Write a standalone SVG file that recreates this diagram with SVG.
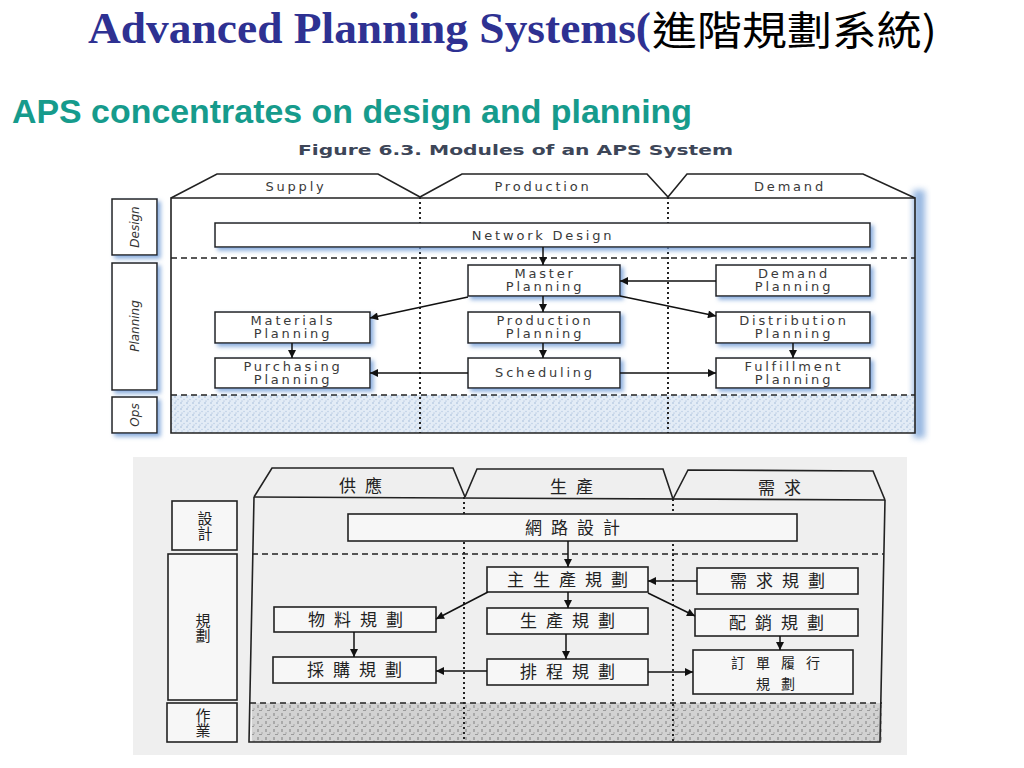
<svg xmlns="http://www.w3.org/2000/svg" width="1024" height="768" viewBox="0 0 1024 768">
<style>
.title{font-family:"Liberation Serif","Noto Serif CJK TC",serif;font-weight:bold;font-size:44px;fill:#2e3192}
.titlecjk{font-family:"Noto Sans CJK TC",sans-serif;font-size:40px;fill:#000}
.sub{font-family:"Liberation Sans",Arial,sans-serif;font-weight:bold;font-size:34px;fill:#169b8c}
.cap{font-family:"DejaVu Sans",sans-serif;font-weight:bold;font-size:14px;fill:#3d4658}
.en{font-family:"DejaVu Sans",sans-serif;font-size:13px;letter-spacing:2.8px;fill:#3a3a3a;text-anchor:middle}
.side{font-family:"DejaVu Sans",sans-serif;font-style:italic;font-size:12px;fill:#333;text-anchor:middle}
.sbox{fill:#fff;stroke:#222;stroke-width:1.5;filter:url(#sh)}
.frame{fill:none;stroke:#222;stroke-width:1.6}
.dash{fill:none;stroke:#222;stroke-width:1.3;stroke-dasharray:6 4}
.dot{fill:none;stroke:#222;stroke-width:2;stroke-dasharray:2 3}
.zh{font-family:"Noto Sans CJK TC","Noto Sans CJK SC",sans-serif;font-size:17px;letter-spacing:9px;fill:#222;text-anchor:middle}
.zh2{font-family:"Noto Sans CJK TC","Noto Sans CJK SC",sans-serif;font-size:14px;letter-spacing:11px;fill:#222;text-anchor:middle}
.zhv{font-family:"Noto Sans CJK TC","Noto Sans CJK SC",sans-serif;font-size:15px;fill:#222;text-anchor:middle;writing-mode:vertical-rl}
.bbox{fill:#f7f7f7;stroke:#222;stroke-width:1.6}
.conn{fill:none;stroke:#111;stroke-width:1.5;marker-end:url(#ah)}
</style>
<defs>
<marker id="ah" viewBox="0 0 10 10" refX="10" refY="5" markerWidth="9" markerHeight="8" markerUnits="userSpaceOnUse" orient="auto"><path d="M0,0 L10,5 L0,10 z" fill="#111"/></marker>
<filter id="sh" x="-10%" y="-20%" width="130%" height="160%"><feDropShadow dx="3" dy="3" stdDeviation="2" flood-color="#6f9bd6" flood-opacity="0.8"/></filter>
<filter id="blur" x="-50%" y="-10%" width="200%" height="120%"><feGaussianBlur stdDeviation="3"/></filter>
<pattern id="ops" width="6" height="6" patternUnits="userSpaceOnUse"><rect width="6" height="6" fill="#e3ecf6"/><circle cx="1" cy="1" r="0.8" fill="#9fb8d8"/><circle cx="4" cy="3.5" r="0.7" fill="#b5c9e2"/><circle cx="2" cy="5" r="0.5" fill="#8aa7cf"/></pattern>
<pattern id="gops" width="8" height="8" patternUnits="userSpaceOnUse"><rect width="8" height="8" fill="#d2d2d2"/><rect x="1" y="1" width="2" height="3" fill="#a9a9a9"/><rect x="5" y="4" width="2" height="2" fill="#bdbdbd"/><rect x="3" y="6" width="3" height="1" fill="#9a9a9a"/></pattern>
</defs>

<rect width="1024" height="768" fill="#fff"/>

<g id="title">
<text class="title" x="88" y="43" textLength="563" lengthAdjust="spacingAndGlyphs">Advanced Planning Systems(</text>
<text class="titlecjk" x="652" y="45" textLength="285" lengthAdjust="spacingAndGlyphs">進階規劃系統)</text>
</g>
<g id="subtitle"><text class="sub" x="12" y="123" textLength="680" lengthAdjust="spacingAndGlyphs">APS concentrates on design and planning</text></g>

<!-- ===== Top figure ===== -->
<g id="fig-en">
<text class="cap" x="298" y="155" textLength="435" lengthAdjust="spacingAndGlyphs">Figure 6.3. Modules of an APS System</text>
<rect x="913" y="190" width="12" height="248" fill="#7ea6da" filter="url(#blur)" opacity="0.8"/>
<rect x="171" y="395" width="744" height="38" fill="url(#ops)"/>
<g id="en-frame">
<path class="frame" d="M171,198 L171,433 L915,433 L915,198 Z"/>
<path class="frame" d="M171,198 L217,174 L378,174 L420,197"/>
<path class="frame" d="M420,197 L462,174 L647,174 L668,197"/>
<path class="frame" d="M668,197 L687,174 L863,174 L915,198"/>
<path class="dash" d="M171,258 H915 M171,395 H915"/>
<path class="dot" d="M420,197 V433 M668,197 V433"/>
</g>
<g id="hdr-supply"><text class="en" x="296" y="191">Supply</text></g>
<g id="hdr-production"><text class="en" x="543" y="191">Production</text></g>
<g id="hdr-demand"><text class="en" x="790" y="191">Demand</text></g>

<g id="lbl-design"><rect class="sbox" x="112" y="199" width="45" height="56"/><text class="side" transform="translate(139,227) rotate(-90)">Design</text></g>
<g id="lbl-planning"><rect class="sbox" x="112" y="263" width="45" height="127"/><text class="side" transform="translate(139,326) rotate(-90)">Planning</text></g>
<g id="lbl-ops"><rect class="sbox" x="112" y="397" width="45" height="36"/><text class="side" transform="translate(139,415) rotate(-90)">Ops</text></g>

<g id="network-design"><rect class="sbox" x="215" y="223" width="655" height="24"/><text class="en" x="543" y="240">Network Design</text></g>
<g id="master-planning"><rect class="sbox" x="468" y="265" width="152" height="31"/><text class="en" x="545" y="278">Master</text><text class="en" x="545" y="291">Planning</text></g>
<g id="production-planning"><rect class="sbox" x="468" y="312" width="152" height="31"/><text class="en" x="545" y="325">Production</text><text class="en" x="545" y="338">Planning</text></g>
<g id="scheduling"><rect class="sbox" x="468" y="358" width="152" height="30"/><text class="en" x="545" y="377">Scheduling</text></g>
<g id="materials-planning"><rect class="sbox" x="215" y="312" width="155" height="31"/><text class="en" x="293" y="325">Materials</text><text class="en" x="293" y="338">Planning</text></g>
<g id="purchasing-planning"><rect class="sbox" x="215" y="358" width="155" height="30"/><text class="en" x="293" y="371">Purchasing</text><text class="en" x="293" y="384">Planning</text></g>
<g id="demand-planning"><rect class="sbox" x="716" y="265" width="154" height="31"/><text class="en" x="794" y="278">Demand</text><text class="en" x="794" y="291">Planning</text></g>
<g id="distribution-planning"><rect class="sbox" x="716" y="312" width="154" height="31"/><text class="en" x="794" y="325">Distribution</text><text class="en" x="794" y="338">Planning</text></g>
<g id="fulfillment-planning"><rect class="sbox" x="716" y="358" width="154" height="30"/><text class="en" x="794" y="371">Fulfillment</text><text class="en" x="794" y="384">Planning</text></g>
</g>

<g id="connectors-en">
<path class="conn" d="M543,247 L543,265"/>
<path class="conn" d="M543,296 L543,312"/>
<path class="conn" d="M543,343 L543,358"/>
<path class="conn" d="M716,281 L620,281"/>
<path class="conn" d="M468,297 L370,318"/>
<path class="conn" d="M620,296 L716,316"/>
<path class="conn" d="M292,343 L292,358"/>
<path class="conn" d="M793,343 L793,358"/>
<path class="conn" d="M468,373 L370,373"/>
<path class="conn" d="M620,373 L716,373"/>
</g>

<!-- ===== Bottom figure ===== -->
<g id="fig-zh">
<rect x="133" y="457" width="774" height="298" fill="#efefef"/>
<rect x="252" y="703" width="630" height="39" fill="url(#gops)"/>
<g id="zh-frame">
<path class="frame" d="M254,497 L249,742 L880,742 L885,500"/>
<path class="frame" d="M254,497 L272,468 L453,468 L465,497"/>
<path class="frame" d="M465,497 L477,469 L663,469 L673,499"/>
<path class="frame" d="M673,499 L688,470 L873,471 L885,500"/>
<path class="frame" d="M254,497 L885,500"/>
<path class="dash" d="M252,554 H884 M250,703 H882"/>
<path class="dot" d="M464,497 V742 M673,499 V742"/>
</g>
<g id="hdr-gongying"><text class="zh" x="365" y="492">供應</text></g>
<g id="hdr-shengchan"><text class="zh" x="576" y="493">生產</text></g>
<g id="hdr-xuqiu"><text class="zh" x="784" y="494">需求</text></g>

<g id="lbl-sheji"><rect class="bbox" x="172" y="501" width="65" height="49"/><text class="zhv" x="205" y="526">設計</text></g>
<g id="lbl-guihua"><rect class="bbox" x="168" y="554" width="69" height="146"/><text class="zhv" x="203" y="628">規劃</text></g>
<g id="lbl-zuoye"><rect class="bbox" x="167" y="703" width="70" height="39"/><text class="zhv" x="203" y="723">作業</text></g>

<g id="wanglu-sheji"><rect class="bbox" x="348" y="514" width="449" height="27"/><text class="zh" x="577" y="534">網路設計</text></g>
<g id="zhu-shengchan-guihua"><rect class="bbox" x="487" y="567" width="161" height="25"/><text class="zh" x="572" y="586">主生產規劃</text></g>
<g id="shengchan-guihua"><rect class="bbox" x="487" y="608" width="161" height="26"/><text class="zh" x="572" y="627">生產規劃</text></g>
<g id="paicheng-guihua"><rect class="bbox" x="487" y="659" width="161" height="26"/><text class="zh" x="572" y="678">排程規劃</text></g>
<g id="wuliao-guihua"><rect class="bbox" x="274" y="607" width="162" height="25"/><text class="zh" x="360" y="626">物料規劃</text></g>
<g id="caigou-guihua"><rect class="bbox" x="273" y="657" width="163" height="26"/><text class="zh" x="359" y="676">採購規劃</text></g>
<g id="xuqiu-guihua"><rect class="bbox" x="697" y="568" width="161" height="26"/><text class="zh" x="782" y="587">需求規劃</text></g>
<g id="peixiao-guihua"><rect class="bbox" x="695" y="609" width="163" height="27"/><text class="zh" x="781" y="629">配銷規劃</text></g>
<g id="dingdan-lvxing-guihua"><rect class="bbox" x="693" y="650" width="160" height="44"/><text class="zh2" x="781" y="668">訂單履行<tspan x="781" dy="21">規劃</tspan></text></g>
</g>

<g id="connectors-zh">
<path class="conn" d="M568,541 L568,567"/>
<path class="conn" d="M568,592 L568,608"/>
<path class="conn" d="M566,634 L566,659"/>
<path class="conn" d="M697,581 L648,581"/>
<path class="conn" d="M488,592 L436,619"/>
<path class="conn" d="M648,593 L695,616"/>
<path class="conn" d="M354,632 L354,657"/>
<path class="conn" d="M487,671 L436,671"/>
<path class="conn" d="M648,672 L693,672"/>
<path class="conn" d="M780,636 L780,650"/>
</g>
</svg>
